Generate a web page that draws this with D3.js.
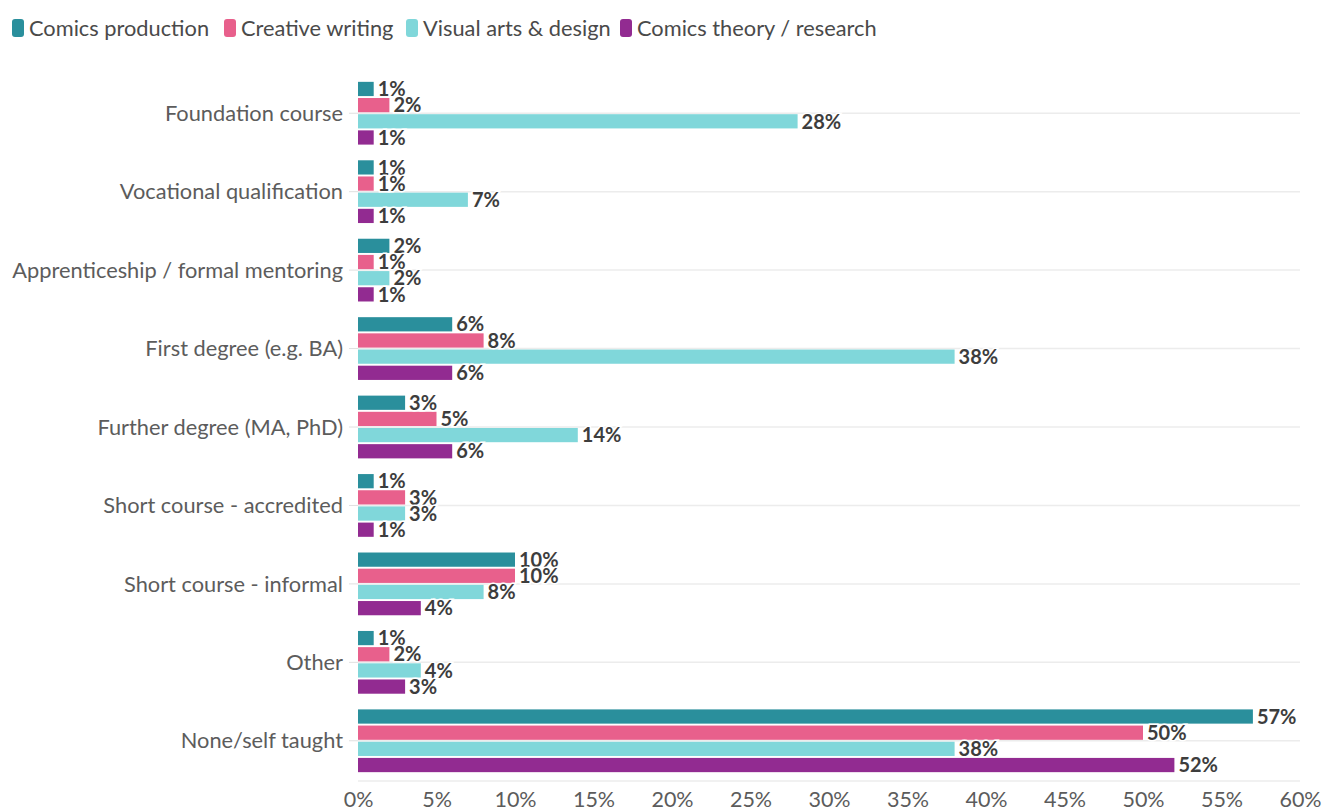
<!DOCTYPE html>
<html>
<head>
<meta charset="utf-8">
<script src="https://cdn.jsdelivr.net/npm/d3@7"></script>
<style>
  html, body { margin: 0; padding: 0; background: #fff; }
  svg { display: block; }
  text { font-family: "Lato", "Open Sans", sans-serif; }
</style>
</head>
<body>
<svg id="chart" width="1322" height="812"></svg>
<script>
// Training categories (top to bottom)
const categories = [
  "Foundation course",
  "Vocational qualification",
  "Apprenticeship / formal mentoring",
  "First degree (e.g. BA)",
  "Further degree (MA, PhD)",
  "Short course - accredited",
  "Short course - informal",
  "Other",
  "None/self taught"
];

const seriesNames = [
  "Comics production",
  "Creative writing",
  "Visual arts & design",
  "Comics theory / research"
];

// Percent of respondents per category
const comicsProduction = [1, 1, 2, 6, 3, 1, 10, 1, 57];
const creativeWriting  = [2, 1, 1, 8, 5, 3, 10, 2, 50];
const visualArts       = [28, 7, 2, 38, 14, 3, 8, 4, 38];
const comicsTheory     = [1, 1, 1, 6, 6, 1, 4, 3, 52];

const xTicks = [0, 5, 10, 15, 20, 25, 30, 35, 40, 45, 50, 55, 60];

const colors = ["#2a8f9c", "#e8608c", "#80d7da", "#922b91"];

const seriesValues = [comicsProduction, creativeWriting, visualArts, comicsTheory];

const svg = d3.select("#chart");
const margin = { left: 358, right: 22, top: 74, bottom: 32 };
const width = 1322, height = 812;

const x = d3.scaleLinear().domain([0, 60]).range([margin.left, width - margin.right]);
const y = d3.scaleBand().domain(categories).range([margin.top, 780]).paddingInner(0.2).paddingOuter(0.1);
const ySub = d3.scaleBand().domain(seriesNames).range([0, y.bandwidth()]).paddingInner(0.12);

// Gridlines through each category, plus baseline
const grid = svg.append("g");
grid.selectAll("line.cat")
  .data(categories)
  .join("line")
  .attr("x1", margin.left)
  .attr("x2", x(60))
  .attr("y1", d => y(d) + y.bandwidth() / 2)
  .attr("y2", d => y(d) + y.bandwidth() / 2)
  .attr("stroke", "#ececec")
  .attr("stroke-width", 1.5);
grid.append("line")
  .attr("x1", margin.left).attr("x2", x(60))
  .attr("y1", 781).attr("y2", 781)
  .attr("stroke", "#ececec").attr("stroke-width", 1.5);

// Category axis labels with small ticks
const yAxis = svg.append("g");
yAxis.selectAll("text")
  .data(categories)
  .join("text")
  .attr("x", 343)
  .attr("y", d => y(d) + y.bandwidth() / 2)
  .attr("dy", "0.35em")
  .attr("text-anchor", "end")
  .attr("font-size", 21.8)
  .attr("fill", "#5c5c5c")
  .text(d => d);
yAxis.selectAll("line")
  .data(categories)
  .join("line")
  .attr("x1", 349).attr("x2", margin.left)
  .attr("y1", d => y(d) + y.bandwidth() / 2)
  .attr("y2", d => y(d) + y.bandwidth() / 2)
  .attr("stroke", "#e0e0e0");

// Bars and value labels
const rows = [];
categories.forEach((c, i) => {
  seriesNames.forEach((s, j) => {
    rows.push({ cat: c, series: s, idx: j, value: seriesValues[j][i] });
  });
});

svg.append("g").selectAll("rect")
  .data(rows)
  .join("rect")
  .attr("x", x(0))
  .attr("y", d => y(d.cat) + ySub(d.series))
  .attr("width", d => x(d.value) - x(0))
  .attr("height", ySub.bandwidth())
  .attr("fill", d => colors[d.idx]);

svg.append("g").selectAll("text")
  .data(rows)
  .join("text")
  .attr("x", d => x(d.value) + 4)
  .attr("y", d => y(d.cat) + ySub(d.series) + ySub.bandwidth() / 2)
  .attr("dy", "0.36em")
  .attr("font-size", 20)
  .attr("font-weight", "bold")
  .attr("fill", "#3d3d3d")
  .attr("stroke", "#fff")
  .attr("stroke-width", 3)
  .attr("paint-order", "stroke")
  .text(d => d.value + "%");

// X axis
const xAxis = d3.axisBottom(x)
  .tickValues(xTicks)
  .tickFormat(d => d + "%")
  .tickSize(0)
  .tickPadding(10);
const gx = svg.append("g").attr("transform", "translate(0,782)").call(xAxis);
gx.select(".domain").remove();
gx.selectAll("text").attr("font-size", 21.5).attr("fill", "#5c5c5c")
  .attr("font-family", "Lato, 'Open Sans', sans-serif");

// Legend
const legend = svg.append("g");
const legendX = [12, 224, 406, 620];
seriesNames.forEach((s, j) => {
  const g = legend.append("g").attr("transform", `translate(${legendX[j]},19)`);
  g.append("rect").attr("width", 12).attr("height", 18).attr("rx", 3).attr("fill", colors[j]);
  g.append("text").attr("x", 17).attr("y", 9).attr("dy", "0.35em")
    .attr("font-size", 21.8).attr("fill", "#4a4a4a").text(s);
});
</script>
</body>
</html>
